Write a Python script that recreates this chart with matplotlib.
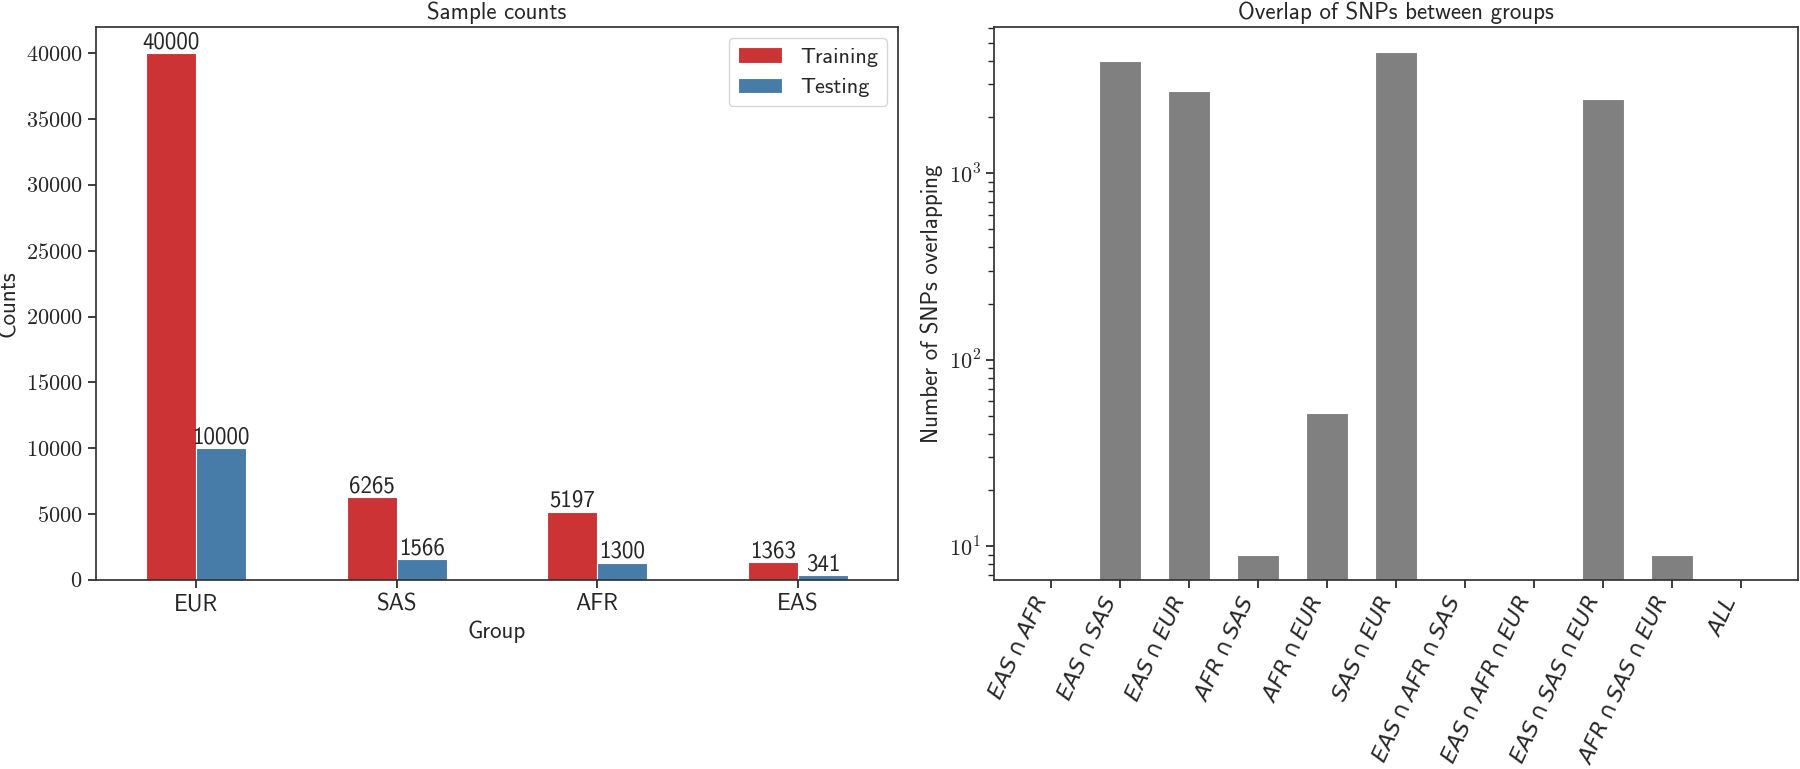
import numpy as np
import matplotlib
matplotlib.use("Agg")
import matplotlib.pyplot as plt
from matplotlib.ticker import FuncFormatter, MultipleLocator, NullFormatter

# Sample counts per group
groups = ['EUR', 'SAS', 'AFR', 'EAS']
training = [40000, 6265, 5197, 1363]
testing = [10000, 1566, 1300, 341]

# SNP overlap between groups (0 = no bar)
overlap_labels = [r'$EAS \cap AFR$', r'$EAS \cap SAS$', r'$EAS \cap EUR$',
                  r'$AFR \cap SAS$', r'$AFR \cap EUR$', r'$SAS \cap EUR$',
                  r'$EAS \cap AFR \cap SAS$', r'$EAS \cap AFR \cap EUR$',
                  r'$EAS \cap SAS \cap EUR$', r'$AFR \cap SAS \cap EUR$',
                  r'$ALL$']
overlap_counts = [0, 4000, 2750, 9, 52, 4460, 0, 0, 2500, 9, 0]

plt.rcParams.update({
    'font.family': 'cmss10',
    'mathtext.fontset': 'cm',
    'axes.unicode_minus': False,
    'font.size': 16.5,
    'text.color': '.15',
    'axes.labelcolor': '.15',
    'xtick.color': '.15',
    'ytick.color': '.15',
    'axes.edgecolor': '.2',
    'axes.linewidth': 1.25,
    'xtick.major.size': 6,
    'ytick.major.size': 6,
    'xtick.major.width': 1.25,
    'ytick.major.width': 1.25,
    'ytick.minor.size': 4,
    'ytick.minor.width': 1.0,
})

fig = plt.figure(figsize=(18, 7.69), dpi=100)

# left: sample counts
ax_left = fig.add_axes([0.0533, 0.2458, 0.4456, 0.7191])
x = np.arange(len(groups))
w = 0.25
bars_tr = ax_left.bar(x - w / 2, training, w, color='#cb3334', edgecolor='white',
                      linewidth=0.8, label='Training')
bars_te = ax_left.bar(x + w / 2, testing, w, color='#477ca8', edgecolor='white',
                      linewidth=0.8, label='Testing')
ax_left.bar_label(bars_tr, fontsize=16.5, padding=0)
ax_left.bar_label(bars_te, fontsize=16.5, padding=0)
ax_left.set_xlim(-0.5, 3.5)
ax_left.set_ylim(0, 42000)
ax_left.yaxis.set_major_locator(MultipleLocator(5000))
ax_left.yaxis.set_major_formatter(FuncFormatter(lambda v, p: rf'${v:.0f}$'))
ax_left.set_xticks(x)
ax_left.set_xticklabels(groups, fontsize=16.5)
ax_left.tick_params(axis='y', labelsize=16)
ax_left.set_title('Sample counts', fontsize=16.5)
ax_left.set_xlabel('Group', fontsize=16.5)
ax_left.set_ylabel('Counts', fontsize=16.5)
ax_left.legend(loc='upper right', fontsize=16)

# right: SNP overlap
ax_right = fig.add_axes([0.5522, 0.2458, 0.4467, 0.7191])
xr = np.arange(len(overlap_labels))
ax_right.bar(xr, overlap_counts, 0.6, color='gray', edgecolor='white', linewidth=0.8)
ax_right.set_yscale('log')
ax_right.set_ylim(6.6, 6080)
ax_right.set_xlim(-0.83, 10.83)
ax_right.yaxis.set_major_formatter(
    FuncFormatter(lambda v, p: rf'$10^{{{int(round(np.log10(v)))}}}$'))
ax_right.yaxis.set_minor_formatter(NullFormatter())
ax_right.set_xticks(xr)
ax_right.set_xticklabels(overlap_labels, rotation=65, ha='right', fontsize=16,
                         math_fontfamily='dejavusans')
ax_right.tick_params(axis='y', labelsize=16)
ax_right.set_title('Overlap of SNPs between groups', fontsize=16.5)
ax_right.set_ylabel('Number of SNPs overlapping', fontsize=16.5)

plt.savefig('out.png', dpi=100)
